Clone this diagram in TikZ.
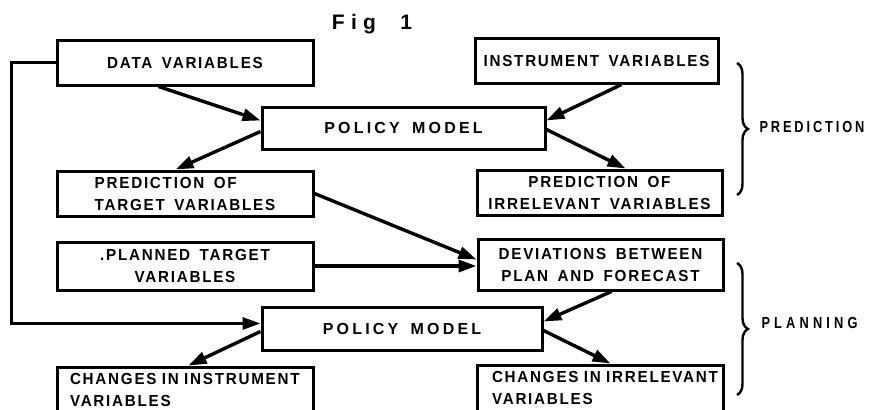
\documentclass[tikz,border=0pt]{standalone}
\usepackage{fontspec}
\setmainfont{Liberation Sans}
\newfontfamily\boxfont{Liberation Sans}[FakeStretch=0.95,LetterSpace=11,WordSpace=1.6]
\newfontfamily\wideboxfont{Liberation Sans}[LetterSpace=20,WordSpace=1.6]
\newfontfamily\sidefont{Liberation Sans}[FakeStretch=0.8,LetterSpace=18]
\newfontfamily\plansidefont{Liberation Sans}[FakeStretch=0.8,LetterSpace=26]
\newfontfamily\titlefont{Liberation Sans}[LetterSpace=30,WordSpace=2]
\usetikzlibrary{arrows.meta,calc,decorations.pathreplacing}
\begin{document}
\begin{tikzpicture}[x=1pt,y=-1pt,
  box/.style={draw,line width=3pt,rectangle,inner sep=0pt,
    font=\boxfont\bfseries\fontsize{16}{22}\selectfont,align=center},
  leftbox/.style={box,align=left,anchor=north west,inner ysep=6pt},
  flow/.style={line width=3.4pt,-{Triangle[length=18pt,width=12pt]}},
  feedback/.style={line width=3pt,-{Triangle[length=18pt,width=12pt]}},
  bracket/.style={line width=2.4pt,decorate,decoration={brace,amplitude=11pt}},
  side/.style={anchor=west,font=\sidefont\bfseries\fontsize{16}{18}\selectfont}]
\useasboundingbox (0,0) rectangle (871,410);
\clip (0,0) rectangle (871,410);

\node (title) at (372,24) {\titlefont\bfseries\fontsize{21}{24}\selectfont Fig 1};

% prediction stage
\node[box,minimum width=256pt,minimum height=45pt] (data) at (185,62.5) {DATA VARIABLES};
\node[box,minimum width=243pt,minimum height=45pt] (instr) at (596.5,60.5) {INSTRUMENT VARIABLES};
\node[box,minimum width=283pt,minimum height=42pt,font=\wideboxfont\bfseries\fontsize{16}{22}\selectfont] (pm1) at (403.5,128) {POLICY MODEL};
\node[box,minimum width=256pt,minimum height=45pt,align=left] (predT) at (185,193.5) {PREDICTION OF\\TARGET VARIABLES};
\node[box,minimum width=245pt,minimum height=45pt] (predI) at (599.5,192.5) {PREDICTION OF\\IRRELEVANT VARIABLES};

% planning stage
\node[box,minimum width=256pt,minimum height=48pt] (plan) at (185,266) {.PLANNED TARGET\\VARIABLES};
\node[box,minimum width=245pt,minimum height=51pt] (dev) at (600.5,264.5) {DEVIATIONS BETWEEN\\PLAN AND FORECAST};
\node[box,minimum width=280pt,minimum height=43pt,font=\wideboxfont\bfseries\fontsize{16}{22}\selectfont] (pm2) at (402,328.5) {POLICY MODEL};
\node[box,minimum width=256pt,minimum height=46pt,text width=230pt,align=left,inner xsep=13pt] (chI) at (185,390) {\mbox{CHANGES IN INSTRUMENT}\\\mbox{VARIABLES}};
\node[box,minimum width=246pt,minimum height=46pt,text width=216pt,align=left,inner xsep=15pt] (chR) at (600,388) {\mbox{CHANGES IN IRRELEVANT}\\\mbox{VARIABLES}};

% connectors
\draw[flow] ($(data.south west)+(103,0)$) -- ($(pm1.north west)+(0,15)$);
\draw[flow] ($(instr.south west)+(148,0)$) -- ($(pm1.north east)+(0,15)$);
\draw[flow] ($(pm1.north west)+(0,26)$) -- ($(predT.north west)+(120,0)$);
\draw[flow] ($(pm1.north east)+(0,24)$) -- ($(predI.north west)+(150,0)$);
\draw[flow] ($(predT.north east)+(0,24)$) -- ($(dev.north west)+(0,22)$);
\draw[flow] (plan.east) -- (plan.east -| dev.west);
\draw[flow] ($(dev.south west)+(135,0)$) -- ($(pm2.north east)+(0,16)$);
\draw[flow] ($(pm2.north west)+(0,26)$) -- ($(chI.north west)+(133,0)$);
\draw[flow] ($(pm2.north east)+(0,25)$) -- ($(chR.north west)+(135,0)$);
\draw[feedback] (data.west) -- ++(-44,0) |- ($(pm2.north west)+(0,18)$);

% stage braces
\coordinate (b1top) at (737,63);
\coordinate (b1bot) at (737,195);
\coordinate (b2top) at (737,263);
\coordinate (b2bot) at (737,395);
\draw[bracket] (b1top) -- (b1bot);
\draw[bracket] (b2top) -- (b2bot);
\node[side] (lpred) at (756,127) {PREDICTION};
\node[side,font=\plansidefont\bfseries\fontsize{16}{18}\selectfont] (lplan) at (758,323) {PLANNING};
\end{tikzpicture}
\end{document}
